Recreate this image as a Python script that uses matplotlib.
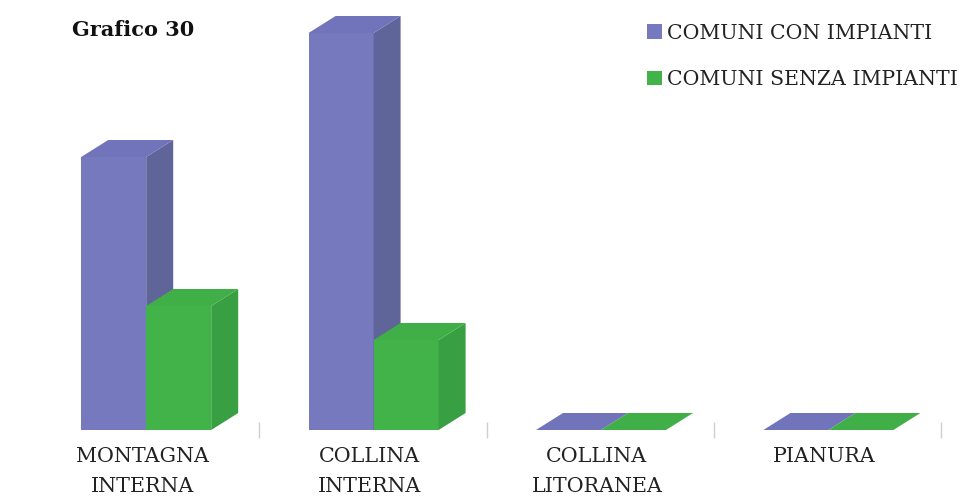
import matplotlib
matplotlib.use("Agg")
import matplotlib.pyplot as plt
import numpy as np

plt.rcParams["font.family"] = "DejaVu Serif"

#Values
categories = ['MONTAGNA\nINTERNA', 'COLLINA\nINTERNA', 'COLLINA\nLITORANEA', 'PIANURA']
con_impianti = [13.65, 19.85, 0, 0]
senza_impianti = [6.2, 4.5, 0, 0]
names = ['COMUNI CON IMPIANTI', 'COMUNI SENZA IMPIANTI']

W, H = 964, 499
px_x = 227.4  # pixels per category
px_y = 20.0   # pixels per value unit
x0_px, y0_px = 146.2, 430  # first category centre, baseline (from top)
bar_w = 65 / px_x
dx, dy = 27 / px_x, 17 / px_y  # fake 3D depth


def bar_3d(ax, xc, values, front, side, top, label):
    bars = ax.bar(xc, values, bar_w, color=front, label=label, zorder=2, linewidth=0)
    for x, v in zip(xc, values):
        l, r = x - bar_w / 2, x + bar_w / 2
        if v > 0:
            ax.fill([r, r + dx, r + dx, r], [0, dy, v + dy, v], color=side, lw=0, zorder=2)
        ax.fill([l, l + dx, r + dx, r], [v, v + dy, v + dy, v], color=top, lw=0, zorder=2)
    return bars


fig = plt.figure(figsize=(W / 100, H / 100), dpi=100)
ax = fig.add_axes([0, 0, 1, 1])
x = np.arange(len(categories))

bar_3d(ax, x - bar_w / 2, con_impianti, '#7679BD', '#5F6499', '#7174BA', names[0])
bar_3d(ax, x + bar_w / 2, senza_impianti, '#42B349', '#399F43', '#40AF48', names[1])

ax.set_xlim(-x0_px / px_x, (W - x0_px) / px_x)
ax.set_ylim(-(H - y0_px) / px_y, y0_px / px_y)

for s in ax.spines.values():
    s.set_visible(False)
ax.set_yticks([])

#Separators as major ticks, labels on minor ticks
ax.spines['bottom'].set_position(('data', 0))
ax.set_xticks(x + 0.5 - 0.003)
ax.set_xticklabels([])
ax.tick_params(axis='x', which='major', direction='inout', length=11, width=1, color='#CFCFCF')
ax.set_xticks(x - 0.018, minor=True)
ax.set_xticklabels(categories, minor=True, fontsize=14.9, color='#222222', linespacing=1.72)
ax.tick_params(axis='x', which='minor', length=0, pad=12.2)

fig.text(72 / W, 1 - 30 / H, 'Grafico 30', fontsize=15, fontweight='bold',
         color='#111111', va='center', ha='left')

ax.legend(loc='upper left', bbox_to_anchor=(647 / W, 1 - 24 / H), bbox_transform=fig.transFigure,
          frameon=False, fontsize=14.8, handlelength=0.72, handleheight=0.72, handletextpad=0.24,
          labelspacing=1.33, borderpad=0, borderaxespad=0, labelcolor='#222222')

fig.savefig('out.png', dpi=100)
